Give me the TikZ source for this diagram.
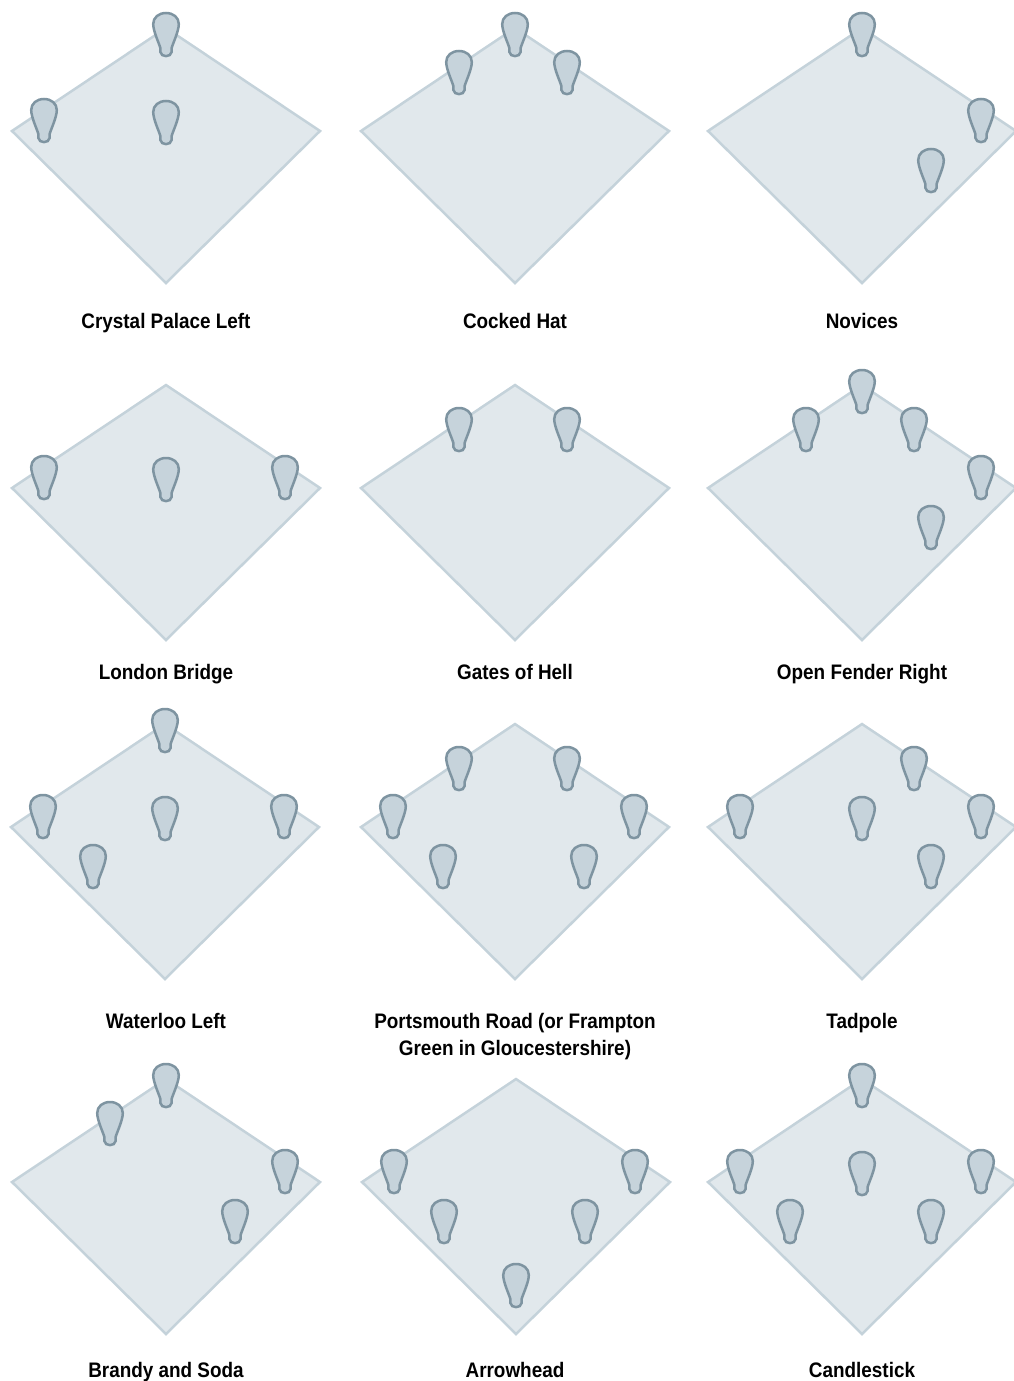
\documentclass[tikz,border=0pt]{standalone}
\usepackage{fontspec}
\setmainfont{Liberation Sans}[FakeStretch=0.9]
\usetikzlibrary{positioning}
\usepackage{xcolor}
\definecolor{fieldfill}{RGB}{225,232,236}
\definecolor{fieldline}{RGB}{196,210,218}
\definecolor{pinfill}{RGB}{198,211,219}
\definecolor{pinline}{RGB}{126,148,161}
\tikzset{
  fieldshape/.style = {draw=fieldline, fill=fieldfill, line width=2.5pt, line join=miter},
  pinshape/.style   = {draw=pinline, fill=pinfill, line width=2.5pt},
  fieldlabel/.style = {font=\bfseries\fontsize{21}{27}\selectfont, align=center,
                       anchor=base, inner sep=0pt},
}
% one field, centred level with its side corners
\newcommand{\fielddiamond}{%
  \draw[fieldshape] (-154,0) -- (0,-103) -- (154,0) -- (0,152) -- cycle;}
% one pin, given by a point 14pt below the top of its head
\newcommand{\pinat}[2]{%
  \draw[pinshape, shift={(#1,#2)}]
    (0,-14) .. controls (7.3,-14) and (12.8,-9.5) .. (12.8,-3)
    .. controls (12.8,4) and (7.5,15) .. (5.6,21)
    .. controls (5.2,22.5) and (5.8,23.5) .. (5.6,25)
    .. controls (5.2,30.5) and (-5.2,30.5) .. (-5.6,25)
    .. controls (-5.8,23.5) and (-5.2,22.5) .. (-5.6,21)
    .. controls (-7.5,15) and (-12.8,4) .. (-12.8,-3)
    .. controls (-12.8,-9.5) and (-7.3,-14) .. (0,-14) -- cycle;}

\begin{document}
\begin{tikzpicture}[x=1pt, y=-1pt]
\useasboundingbox (0,0) rectangle (1014,1381);

% row 1
\begin{scope}[shift={(166,131)}]
  \fielddiamond
  \pinat{0}{-104} \pinat{-122}{-18} \pinat{0}{-16}
\end{scope}
\node[fieldlabel] (crystal) at (166,328) {Crystal Palace Left};

\begin{scope}[shift={(515,131)}]
  \fielddiamond
  \pinat{0}{-104} \pinat{-56}{-66} \pinat{52}{-66}
\end{scope}
\node[fieldlabel] (cocked) at (515,328) {Cocked Hat};

\begin{scope}[shift={(862,131)}]
  \fielddiamond
  \pinat{0}{-104} \pinat{119}{-18} \pinat{69}{32}
\end{scope}
\node[fieldlabel] (novices) at (862,328) {Novices};

% row 2
\begin{scope}[shift={(166,488)}]
  \fielddiamond
  \pinat{-122}{-18} \pinat{0}{-16} \pinat{119}{-18}
\end{scope}
\node[fieldlabel] (london) at (166,679) {London Bridge};

\begin{scope}[shift={(515,488)}]
  \fielddiamond
  \pinat{-56}{-66} \pinat{52}{-66}
\end{scope}
\node[fieldlabel] (gates) at (515,679) {Gates of Hell};

\begin{scope}[shift={(862,488)}]
  \fielddiamond
  \pinat{0}{-104} \pinat{-56}{-66} \pinat{52}{-66}
  \pinat{119}{-18} \pinat{69}{32}
\end{scope}
\node[fieldlabel] (fender) at (862,679) {Open Fender Right};

% row 3
\begin{scope}[shift={(165,827)}]
  \fielddiamond
  \pinat{0}{-104} \pinat{-122}{-18} \pinat{0}{-16}
  \pinat{119}{-18} \pinat{-72}{32}
\end{scope}
\node[fieldlabel] (waterloo) at (166,1028) {Waterloo Left};

\begin{scope}[shift={(515,827)}]
  \fielddiamond
  \pinat{-56}{-66} \pinat{52}{-66} \pinat{-122}{-18}
  \pinat{119}{-18} \pinat{-72}{32} \pinat{69}{32}
\end{scope}
\node[fieldlabel] (portsmouth) at (515,1055)
  {Portsmouth Road (or Frampton\\Green in Gloucestershire)};

\begin{scope}[shift={(862,827)}]
  \fielddiamond
  \pinat{-122}{-18} \pinat{0}{-16} \pinat{52}{-66}
  \pinat{119}{-18} \pinat{69}{32}
\end{scope}
\node[fieldlabel] (tadpole) at (862,1028) {Tadpole};

% row 4
\begin{scope}[shift={(166,1182)}]
  \fielddiamond
  \pinat{0}{-104} \pinat{-56}{-66} \pinat{119}{-18} \pinat{69}{32}
\end{scope}
\node[fieldlabel] (brandy) at (166,1377) {Brandy and Soda};

\begin{scope}[shift={(516,1182)}]
  \fielddiamond
  \pinat{-122}{-18} \pinat{119}{-18} \pinat{-72}{32}
  \pinat{69}{32} \pinat{0}{96}
\end{scope}
\node[fieldlabel] (arrowhead) at (515,1377) {Arrowhead};

\begin{scope}[shift={(862,1182)}]
  \fielddiamond
  \pinat{0}{-104} \pinat{-122}{-18} \pinat{0}{-16}
  \pinat{119}{-18} \pinat{-72}{32} \pinat{69}{32}
\end{scope}
\node[fieldlabel] (candlestick) at (862,1377) {Candlestick};

\end{tikzpicture}
\end{document}
